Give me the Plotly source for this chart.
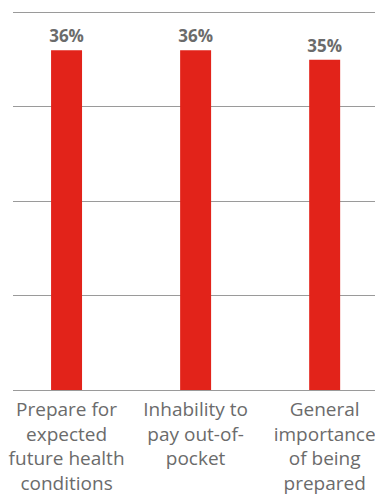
import plotly.graph_objects as go

categories = ["Prepare for<br>expected<br>future health<br>conditions",
              "Inhability to<br>pay out-of-<br>pocket",
              "General<br>importance<br>of being<br>prepared"]
values = [36, 36, 35]
labels = ["36%", "36%", "35%"]

fig = go.Figure(go.Bar(
    x=[0, 1, 2], y=values, text=labels, textposition="outside",
    marker=dict(color="#e2231a", line=dict(width=0)),
    width=0.24, cliponaxis=False,
    textfont=dict(family="Open Sans", size=17, color="#6b6b6b", weight="bold"),
))
fig.update_layout(
    width=375, height=497, margin=dict(l=13, r=0, t=2.5, b=107),
    paper_bgcolor="white", plot_bgcolor="white", showlegend=False,
    uniformtext=dict(minsize=17, mode="show"),
    xaxis=dict(range=[-0.415, 2.39], tickmode="array", tickvals=[0, 1, 2],
               ticktext=categories, showgrid=False, zeroline=False, showline=False,
               tickfont=dict(family="Open Sans", size=19, color="#6b6b6b"), ticks="",
               ticklabelstandoff=6, ticklabeloverflow="allow"),
    yaxis=dict(range=[0, 41], tickvals=[0, 10, 20, 30, 40], showticklabels=False, showgrid=True,
               gridcolor="#9a9a9a", gridwidth=1.2, zeroline=True, zerolinecolor="#9a9a9a",
               zerolinewidth=1.2, showline=False),
)
fig.write_html("out.html")
